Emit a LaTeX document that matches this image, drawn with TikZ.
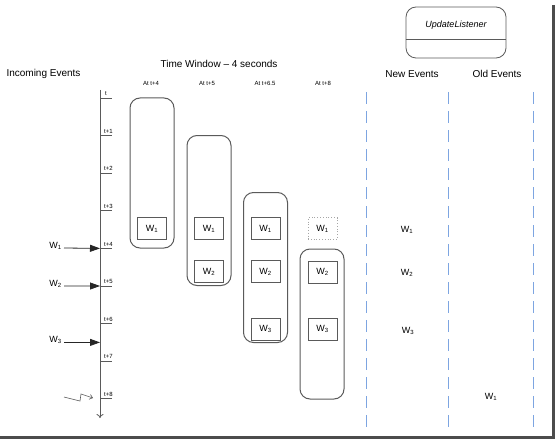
\documentclass[tikz,border=0pt]{standalone}
\usepackage{fontspec}
\setmainfont{Liberation Sans}
\usetikzlibrary{arrows.meta}
\definecolor{linegray}{RGB}{90,90,90}
\definecolor{dashblue}{RGB}{125,165,225}
\begin{document}
\begin{tikzpicture}[x=1pt, y=-1pt,
  window/.style={draw=linegray, line width=1pt, rounded corners=10pt,
    minimum width=44, minimum height=150, inner sep=0pt},
  evbox/.style={draw=linegray, line width=0.8pt, minimum width=29,
    minimum height=22, inner sep=0pt, font=\fontsize{9}{10}\selectfont},
  gone/.style={evbox, draw=gray!70, dotted},
  ev/.style={font=\fontsize{9}{10}\selectfont, inner sep=1pt},
  small/.style={font=\fontsize{6}{7}\selectfont, inner sep=0pt},
  title/.style={font=\fontsize{10}{12}\selectfont},
  arrive/.style={black!85, line width=0.8pt, -{Triangle[length=10pt, width=7pt]}},
  sep/.style={draw=dashblue, line width=1pt, dash pattern=on 12pt off 7pt}]
  \useasboundingbox (0,0) rectangle (556,441);
  % frame shadow
  \draw[line width=3pt, gray!60!black] (553,5) -- (553,437) -- (0,437);
  % headings
  \node[title] (incoming) at (43.5,74) {Incoming Events};
  \node[title] (twin) at (219,64) {Time Window – 4 seconds};
  \node[title] (newev) at (412,74) {New Events};
  \node[title] (oldev) at (497,74) {Old Events};
  \node[draw=linegray, line width=0.8pt, rounded corners=10pt,
    minimum width=100, minimum height=51] (listener) at (456,32.5) {};
  \draw[linegray, line width=0.8pt] (listener.west |- 0,39) -- (listener.east |- 0,39);
  \node[font=\fontsize{9}{10}\selectfont\itshape] (lname) at (456,25) {UpdateListener};
  % time axis
  \coordinate (axtop) at (100,90);
  \coordinate (axbot) at (100,418);
  \draw[linegray, line width=0.8pt, -{To[length=4pt, width=7pt]}] (axtop) -- (axbot);
  \foreach \k in {0,...,8} {
    \coordinate (tick\k) at (100,98+37.6*\k);
    \draw[linegray, line width=0.8pt] (tick\k) -- ++(12,0);
  }
  \node[small, anchor=south west] (lt0) at ([shift={(5,-2)}]tick0) {t};
  \foreach \k in {1,...,8}
    \node[small, anchor=south west] (lt\k) at ([shift={(4,-2)}]tick\k) {t+\k};
  % incoming events
  \coordinate (tick65) at (100,342.4);
  \node[ev, anchor=east] (in1) at (63,246) {W\textsubscript{1}};
  \node[ev, anchor=east] (in2) at (63,284) {W\textsubscript{2}};
  \node[ev, anchor=east] (in3) at (63,340) {W\textsubscript{3}};
  \draw[arrive] (64,248) -- (tick4);
  \draw[arrive] (64,286) -- (tick5);
  \draw[arrive] (64,342.4) -- (tick65);
  \draw[linegray, line width=0.6pt, -{Straight Barb[length=3pt, width=5pt]}]
    (64,397) -- (80,401) -- (81,394) -- (93,398);
  % windows
  \node[small] (at4) at (151,83) {At t+4};
  \node[small] (at5) at (207,83) {At t+5};
  \node[small] (at65) at (265,83) {At t+6.5};
  \node[small] (at8) at (323,83) {At t+8};
  \node[window] (win1) at (152,173) {};
  \node[window] (win2) at (209,210.5) {};
  \node[window] (win3) at (265.5,267.5) {};
  \node[window] (win4) at (322,324) {};
  \node[evbox] (a1) at (152,228.5) {W\textsubscript{1}};
  \node[evbox] (b1) at (209,228.5) {W\textsubscript{1}};
  \node[evbox] (b2) at (209,271.5) {W\textsubscript{2}};
  \node[evbox] (c1) at (265.5,228.5) {W\textsubscript{1}};
  \node[evbox] (c2) at (265.5,271.5) {W\textsubscript{2}};
  \node[evbox] (c3) at (265.5,329) {W\textsubscript{3}};
  \node[gone] (d1) at (322.5,228.5) {W\textsubscript{1}};
  \node[evbox] (d2) at (322.5,272) {W\textsubscript{2}};
  \node[evbox] (d3) at (322.5,329) {W\textsubscript{3}};
  % listener columns
  \foreach \x in {366,448,533}
    \draw[sep] (\x,92) -- (\x,430);
  \node[ev] (n1) at (407,230) {W\textsubscript{1}};
  \node[ev] (n2) at (407,273) {W\textsubscript{2}};
  \node[ev] (n3) at (408,331) {W\textsubscript{3}};
  \node[ev] (o1) at (491,397) {W\textsubscript{1}};
\end{tikzpicture}
\end{document}
